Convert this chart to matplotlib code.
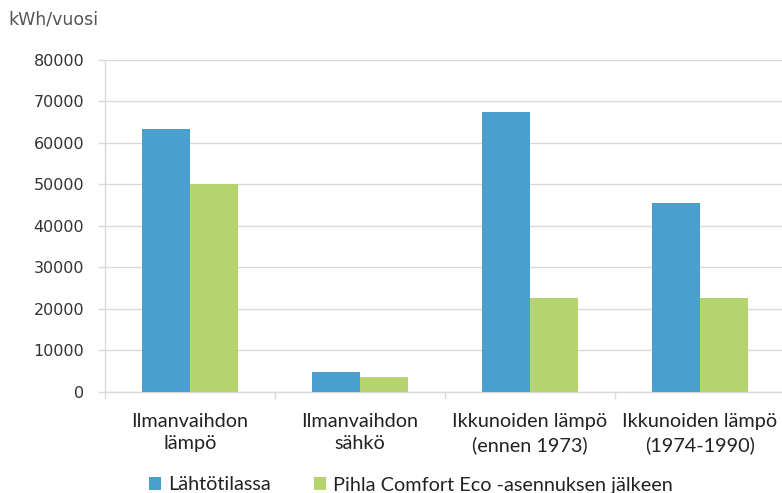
import matplotlib
matplotlib.use("Agg")
import matplotlib.pyplot as plt
from matplotlib.patches import Patch
import numpy as np

categories = ["Ilmanvaihdon\nlämpö", "Ilmanvaihdon\nsähkö",
              "Ikkunoiden lämpö\n(ennen 1973)", "Ikkunoiden lämpö\n(1974-1990)"]
before = [63200, 4700, 67400, 45500]
after = [50000, 3700, 22500, 22500]
series_names = ["Lähtötilassa", "Pihla Comfort Eco -asennuksen jälkeen"]
yticks = [0, 10000, 20000, 30000, 40000, 50000, 60000, 70000, 80000]
unit_label = "kWh/vuosi"

BLUE = "#4A9FCF"
GREEN = "#B5D36E"
GRID = "#D9D9D9"
CAT_FONT = ["Lato", "DejaVu Sans"]

W, H = 782, 493
fig = plt.figure(figsize=(W / 100, H / 100), dpi=100)
ax = fig.add_axes([105 / W, (H - 392) / H, 680 / W, (392 - 59.5) / H])

x = np.arange(len(categories))
bw = 0.283
ax.bar(x - bw / 2, before, bw, color=BLUE, zorder=3)
ax.bar(x + bw / 2, after, bw, color=GREEN, zorder=3)

ax.set_xlim(-0.5, len(categories) - 0.5)
ax.set_ylim(0, 80000)
ax.set_yticks(yticks)
ax.set_yticklabels([str(v) for v in yticks], fontsize=11.5, color="#333333",
                   family="DejaVu Sans")
ax.yaxis.grid(True, color=GRID, linewidth=1.0, zorder=0)
ax.tick_params(axis="y", length=5, width=1, color=GRID, pad=10)

ax.set_xticks(x)
ax.set_xticklabels(categories, fontsize=14.3, family=CAT_FONT, color="#222222",
                   linespacing=1.4)
ax.set_xticks(np.arange(-0.5, len(categories), 1.0), minor=True)
ax.tick_params(axis="x", which="major", length=0, pad=15)
ax.tick_params(axis="x", which="minor", length=5, width=1, color=GRID)

for s in ["top", "right"]:
    ax.spines[s].set_visible(False)
for s in ["left", "bottom"]:
    ax.spines[s].set_color(GRID)
    ax.spines[s].set_linewidth(1.0)

fig.text(8 / W, 1 - 19 / H, unit_label, fontsize=12.5, color="#555555",
         va="center", ha="left", family="DejaVu Sans")

handles = [Patch(facecolor=BLUE, edgecolor="none"),
           Patch(facecolor=GREEN, edgecolor="none")]
fig.legend(handles, series_names, loc="center left",
           bbox_to_anchor=(149 / W, 1 - 485 / H), ncol=2, frameon=False,
           prop={"family": CAT_FONT, "size": 14.3},
           handlelength=0.6, handleheight=0.6, handletextpad=0.35,
           columnspacing=2.2, borderpad=0, borderaxespad=0, labelcolor="#222222")

fig.savefig("out.png", dpi=100)
